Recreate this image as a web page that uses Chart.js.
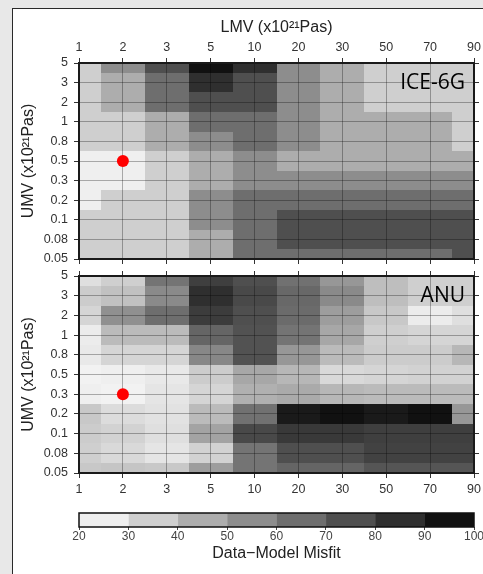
<!DOCTYPE html>
<html>
<head>
<meta charset="utf-8">
<script src="https://cdn.jsdelivr.net/npm/chart.js@4.4.1/dist/chart.umd.min.js"></script>
<style>
  html, body { margin: 0; padding: 0; }
  body { width: 483px; height: 574px; overflow: hidden; position: relative; background: #e8e8e8; }
  #frame { position: absolute; left: 12px; top: 8px; width: 600px; height: 700px; background: #fff;
           border-left: 1px solid #2a2a2a; border-top: 1px solid #2a2a2a; }
  canvas { position: absolute; left: 0; }
</style>
</head>
<body>
<div id="frame"></div>
<canvas id="c1" width="483" height="268" style="top:0px"></canvas>
<canvas id="c2" width="483" height="237" style="top:268px"></canvas>
<canvas id="c3" width="483" height="69" style="top:505px"></canvas>
<script>
// ---------------- data ----------------
const xLabels = [1, 2, 3, 5, 10, 20, 30, 50, 70, 90];            // LMV (x10^21 Pas)
const yLabels = [0.05, 0.08, 0.1, 0.2, 0.3, 0.5, 0.8, 1, 2, 3, 5]; // UMV (x10^21 Pas)
const misfitTicks = [20, 30, 40, 50, 60, 70, 80, 90, 100];

// misfit grids: rows from UMV = 5 (top) down to 0.05 (bottom); columns follow xLabels
const ice6g = [
  [35, 55, 75, 95, 85, 55, 45, 35, 35, 35],
  [35, 45, 65, 85, 75, 55, 45, 35, 35, 35],
  [35, 45, 65, 75, 75, 55, 45, 35, 35, 35],
  [35, 35, 45, 65, 65, 55, 45, 45, 45, 35],
  [35, 35, 45, 55, 65, 55, 45, 45, 45, 35],
  [25, 25, 35, 45, 55, 45, 45, 45, 45, 45],
  [25, 25, 35, 45, 55, 55, 55, 55, 55, 55],
  [25, 35, 35, 55, 65, 65, 65, 65, 65, 65],
  [35, 35, 35, 55, 65, 75, 75, 75, 75, 75],
  [35, 35, 35, 45, 65, 75, 75, 75, 75, 75],
  [35, 35, 35, 45, 65, 65, 65, 65, 65, 75]
];
const anu = [
  [30, 35, 63, 80, 75, 64, 52, 40, 35, 35],
  [36, 39, 56, 85, 77, 67, 56, 40, 35, 35],
  [33, 54, 65, 81, 75, 66, 50, 37, 26, 30],
  [26, 41, 41, 68, 74, 63, 47, 35, 33, 33],
  [27, 33, 33, 57, 74, 52, 41, 36, 36, 42],
  [24, 25, 27, 36, 47, 42, 32, 33, 34, 34],
  [25, 24, 28, 33, 44, 46, 42, 41, 41, 41],
  [37, 31, 29, 41, 64, 92, 95, 92, 95, 52],
  [36, 34, 30, 48, 77, 82, 82, 80, 80, 80],
  [35, 32, 28, 34, 63, 75, 75, 79, 79, 79],
  [37, 38, 37, 50, 63, 68, 68, 73, 73, 73]
];
// best-fit markers (LMV, UMV)
const iceBest = [2, 0.5];
const anuBest = [2, 0.3];

// ---------------- styles ----------------
const binCenters = [25, 35, 45, 55, 65, 75, 85, 95];
const binGrays = [239, 207, 173, 141, 110, 79, 47, 17];
function misfitColor(v) {
  let g;
  const n = binCenters.length;
  if (v <= binCenters[0]) {
    g = binGrays[0] + (binCenters[0] - v) * (binGrays[0] - binGrays[1]) / 10;
  } else if (v >= binCenters[n - 1]) {
    g = binGrays[n - 1] - (v - binCenters[n - 1]) * (binGrays[n - 2] - binGrays[n - 1]) / 10;
  } else {
    let i = 0;
    while (v > binCenters[i + 1]) i++;
    const t = (v - binCenters[i]) / (binCenters[i + 1] - binCenters[i]);
    g = binGrays[i] + t * (binGrays[i + 1] - binGrays[i]);
  }
  g = Math.max(0, Math.min(255, Math.round(g)));
  return `rgb(${g},${g},${g})`;
}

const FONT = "'Liberation Sans', Arial, Helvetica, sans-serif";
const tickFont = { family: FONT, size: 12.5 };
const titleFont = { family: FONT, size: 16 };
const GRID = 'rgba(0,0,0,0.30)';
const INK = '#333';

function fixSize(w, h) {
  return s => {
    if (w != null) s.width = w;
    if (h != null) s.height = h;
    s.paddingLeft = 0; s.paddingRight = 0; s.paddingTop = 0; s.paddingBottom = 0;
  };
}

function xAxis(position, size, showLabels, onArea) {
  return {
    type: 'linear', position, min: 0, max: xLabels.length - 1,
    afterFit: fixSize(null, size),
    afterBuildTicks: s => { s.ticks = xLabels.map((_, i) => ({ value: i })); },
    ticks: { display: showLabels, callback: v => String(xLabels[v]), font: tickFont, color: INK,
             padding: position === 'top' ? 3 : 4, maxRotation: 0, autoSkip: false },
    grid: { display: true, drawOnChartArea: onArea, color: GRID, lineWidth: 1,
            tickColor: INK, tickLength: 5, tickWidth: 1 },
    border: { display: true, color: '#1a1a1a', width: 2 },
    title: { display: false }
  };
}
function yAxis(position, size, showLabels, onArea) {
  return {
    type: 'linear', position, min: 0, max: yLabels.length - 1,
    afterFit: fixSize(size, null),
    afterBuildTicks: s => { s.ticks = yLabels.map((_, i) => ({ value: i })); },
    ticks: { display: showLabels, callback: v => String(yLabels[v]), font: tickFont, color: INK,
             padding: 6, autoSkip: false },
    grid: { display: true, drawOnChartArea: onArea, color: GRID, lineWidth: 1,
            tickColor: INK, tickLength: 5, tickWidth: 1 },
    border: { display: true, color: '#1a1a1a', width: 2 },
    title: { display: showLabels, text: 'UMV (x10²¹Pas)', font: titleFont, color: '#222',
             padding: { top: 4, bottom: 4 } }
  };
}

function heatmapPlugin(grid, name) {
  return {
    id: 'heatmap',
    beforeDraw(chart) {
      const { ctx } = chart;
      const x = chart.scales.x, y = chart.scales.y;
      const nRows = grid.length, nCols = grid[0].length;
      ctx.save();
      grid.forEach((row, r) => {
        const yi = nRows - 1 - r;
        const py0 = Math.round(y.getPixelForValue(Math.min(yi + 0.5, nRows - 1)));
        const py1 = Math.round(y.getPixelForValue(Math.max(yi - 0.5, 0)));
        row.forEach((v, c) => {
          const px0 = Math.round(x.getPixelForValue(Math.max(c - 0.5, 0)));
          const px1 = Math.round(x.getPixelForValue(Math.min(c + 0.5, nCols - 1)));
          ctx.fillStyle = misfitColor(v);
          ctx.fillRect(px0, py0, px1 - px0, py1 - py0);
        });
      });
      ctx.restore();
    },
    afterDraw(chart) {
      const { ctx, chartArea } = chart;
      ctx.save();
      ctx.font = "21px 'Open Sans', 'Noto Sans', sans-serif";
      ctx.fillStyle = '#000';
      ctx.textAlign = 'right';
      ctx.textBaseline = 'middle';
      ctx.fillText(name, chartArea.right - 9, chartArea.top + 20);
      ctx.restore();
    }
  };
}

function dotDataset(best) {
  return {
    data: [{ x: xLabels.indexOf(best[0]), y: yLabels.indexOf(best[1]) }],
    pointRadius: 6, pointBackgroundColor: '#ff0000', pointBorderWidth: 0,
    xAxisID: 'x', yAxisID: 'y'
  };
}

const common = {
  responsive: false, maintainAspectRatio: false, animation: false, events: [],
  devicePixelRatio: 1,
  plugins: { legend: { display: false }, tooltip: { enabled: false } }
};

// ---------------- panel 1 : ICE-6G ----------------
const top1 = xAxis('top', 49, true, true);
top1.title = { display: true, text: 'LMV (x10²¹Pas)', font: titleFont, color: '#222', padding: { top: 4, bottom: 4 } };
new Chart(document.getElementById('c1'), {
  type: 'scatter',
  data: { datasets: [dotDataset(iceBest)] },
  options: Object.assign({}, common, {
    layout: { padding: { left: 15, top: 14, right: 0, bottom: 0 } },
    scales: {
      x: top1,
      x2: xAxis('bottom', 9, false, false),
      y: yAxis('left', 64, true, true),
      y2: yAxis('right', 9, false, false)
    }
  }),
  plugins: [heatmapPlugin(ice6g, 'ICE-6G')]
});

// ---------------- panel 2 : ANU ----------------
new Chart(document.getElementById('c2'), {
  type: 'scatter',
  data: { datasets: [dotDataset(anuBest)] },
  options: Object.assign({}, common, {
    layout: { padding: { left: 15, top: 0, right: 0, bottom: 0 } },
    scales: {
      x: xAxis('bottom', 32, true, true),
      x2: xAxis('top', 8, false, false),
      y: yAxis('left', 64, true, true),
      y2: yAxis('right', 9, false, false)
    }
  }),
  plugins: [heatmapPlugin(anu, 'ANU')]
});

// ---------------- colour bar ----------------
const binDatasets = misfitTicks.slice(0, -1).map((lo, i) => ({
  data: [[lo, misfitTicks[i + 1]]],
  backgroundColor: misfitColor((lo + misfitTicks[i + 1]) / 2),
  borderWidth: 0, barPercentage: 1, categoryPercentage: 1, grouped: false
}));
new Chart(document.getElementById('c3'), {
  type: 'bar',
  data: { labels: [''], datasets: binDatasets },
  options: Object.assign({}, common, {
    indexAxis: 'y',
    layout: { padding: { left: 79, right: 9, top: 8, bottom: 0 } },
    scales: {
      x: {
        type: 'linear', position: 'bottom', min: misfitTicks[0], max: misfitTicks[misfitTicks.length - 1],
        afterFit: fixSize(null, 47),
        afterBuildTicks: s => { s.ticks = misfitTicks.map(v => ({ value: v })); },
        ticks: { font: { family: FONT, size: 12 }, color: '#444', padding: -1, maxRotation: 0, autoSkip: false },
        grid: { display: true, drawOnChartArea: false, drawTicks: true, tickLength: 3, tickColor: '#444', color: 'rgba(0,0,0,0)' },
        border: { display: false },
        title: { display: true, text: 'Data−Model Misfit', font: titleFont, color: '#222', padding: { top: 0, bottom: 11 } }
      },
      y: { type: 'category', display: false }
    }
  }),
  plugins: [{
    id: 'outline',
    afterDatasetsDraw(chart) {
      const { ctx, chartArea: a } = chart;
      ctx.save();
      ctx.strokeStyle = '#111';
      ctx.lineWidth = 1.5;
      ctx.strokeRect(a.left, a.top, a.right - a.left, a.bottom - a.top);
      ctx.restore();
    }
  }]
});
</script>
</body>
</html>
